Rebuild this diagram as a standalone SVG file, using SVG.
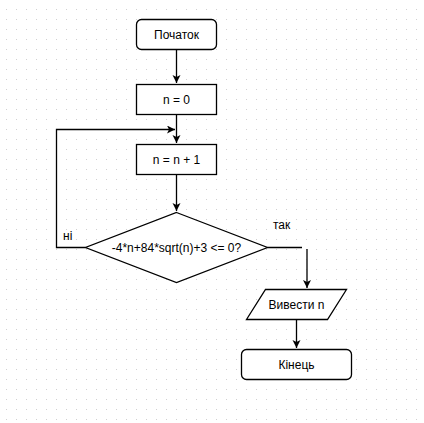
<svg xmlns="http://www.w3.org/2000/svg" width="424" height="423" viewBox="0 0 424 423">
<defs>
<pattern id="grid" x="0" y="0" width="10" height="10" patternUnits="userSpaceOnUse">
<rect x="6" y="9" width="1" height="1" fill="#d0d0d0"/>
</pattern>
<marker id="arr" markerWidth="10" markerHeight="10" refX="8" refY="4" orient="auto" markerUnits="userSpaceOnUse">
<path d="M0,0 L8,4 L0,8 L2,4 Z" fill="#000"/>
</marker>
<style>
.box{fill:#fff;stroke:#000;stroke-width:1.3}
.t{font-family:"Liberation Sans",Arial,sans-serif;font-size:12px;fill:#000;text-anchor:middle}
.l{font-family:"Liberation Sans",Arial,sans-serif;font-size:12px;fill:#000}
.c{fill:none;stroke:#000;stroke-width:1.3}
</style>
</defs>
<rect width="424" height="423" fill="#fff"/>
<rect width="424" height="423" fill="url(#grid)"/>
<g id="connectors">
<path class="c" d="M176.5,49.5 V83" marker-end="url(#arr)"/>
<path class="c" d="M176.5,114.5 V143" marker-end="url(#arr)"/>
<path class="c" d="M85.5,247.5 H56.5 V129.5 H175" marker-end="url(#arr)"/>
<path class="c" d="M176.5,174.5 V211" marker-end="url(#arr)"/>
<path class="c" d="M267.5,247.5 H302"/>
<path class="c" d="M307,249 V288" marker-end="url(#arr)"/>
<path class="c" d="M296.5,319.5 V348" marker-end="url(#arr)"/>
</g>
<g id="start">
<rect class="box" x="136.5" y="19.5" width="80" height="30" rx="5"/>
<text class="t" x="176.5" y="38.5">Початок</text>
</g>
<g id="init">
<rect class="box" x="136.5" y="84.5" width="80" height="30"/>
<text class="t" x="176.5" y="103.5">n = 0</text>
</g>
<g id="inc">
<rect class="box" x="136.5" y="144.5" width="80" height="30"/>
<text class="t" x="176.5" y="163.5">n = n + 1</text>
</g>
<g id="cond">
<polygon class="box" points="176.5,212.5 267.5,247.5 176.5,282.5 85.5,247.5"/>
<text class="t" x="176.5" y="251.5">-4*n+84*sqrt(n)+3 &lt;= 0?</text>
</g>
<g id="labels">
<text class="l" x="63" y="240">ні</text>
<text class="l" x="273" y="229">так</text>
</g>
<g id="output">
<polygon class="box" points="265.5,289.5 346.5,289.5 327.5,319.5 246.5,319.5"/>
<text class="t" x="296.5" y="308.5">Вивести n</text>
</g>
<g id="end">
<rect class="box" x="241.5" y="349.5" width="110" height="30" rx="5"/>
<text class="t" x="296.5" y="368.5">Кінець</text>
</g>
</svg>
